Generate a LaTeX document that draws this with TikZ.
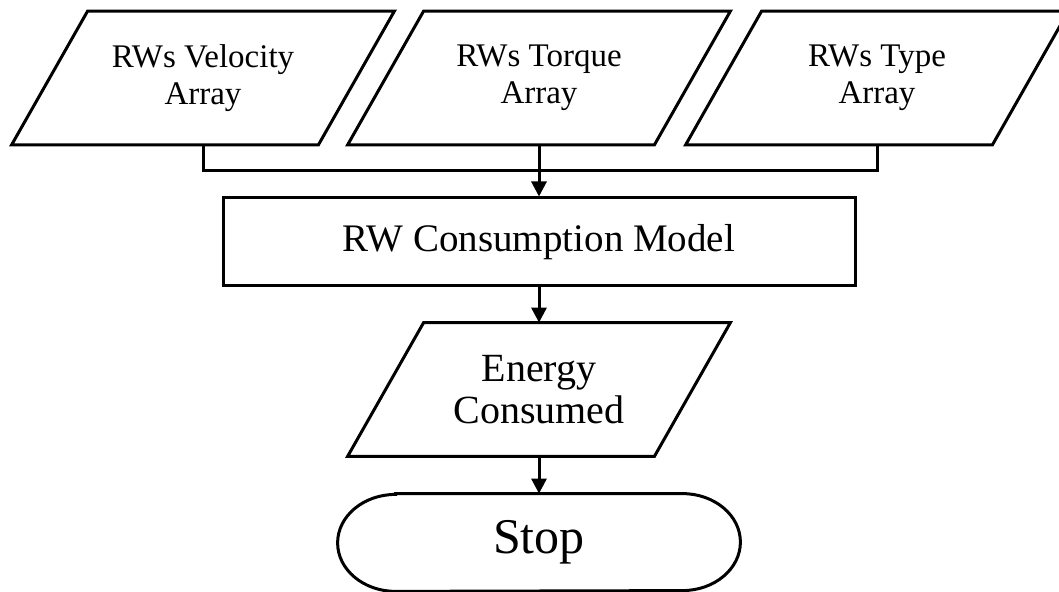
\documentclass[tikz,border=0pt]{standalone}
\usepackage{fontspec}
\setmainfont{Liberation Serif}
\usetikzlibrary{arrows.meta,shapes.geometric,positioning}

\begin{document}
\begin{tikzpicture}[x=0.5pt,y=-0.5pt,
    iobox/.style={rectangle,minimum width=153pt,minimum height=66.5pt,
      inner sep=0pt,align=center},
    procbox/.style={rectangle,draw,line width=1.5pt,minimum width=316pt,
      minimum height=44pt,inner sep=0pt,font=\fontsize{19.5pt}{21pt}\selectfont},
    stopbox/.style={rectangle,minimum width=201pt,minimum height=48.5pt,
      inner sep=0pt,font=\fontsize{25pt}{27pt}\selectfont},
    link/.style={line width=1.5pt},
    flow/.style={line width=1.5pt,-{Triangle[length=7.5pt,width=7.5pt]}}]

    \useasboundingbox (0,0) rectangle (1059,592);

    % entradas
    \node[iobox,font=\fontsize{16.5pt}{18.5pt}\selectfont] (vel) at (203,78)
      {RWs Velocity\\Array};
    \node[iobox,font=\fontsize{16.5pt}{18.5pt}\selectfont] (torque) at (539,78)
      {RWs Torque\\Array};
    \node[iobox,font=\fontsize{16.5pt}{18.5pt}\selectfont] (type) at (877,78)
      {RWs Type\\Array};
    \coordinate (bus) at (539,171);

    % modelo
    \node[procbox] (model) at (539,242) {RW Consumption Model};

    % saida
    \node[iobox,font=\fontsize{20pt}{21pt}\selectfont] (energy) at (539,389.5)
      {Energy\\Consumed};

    % contornos dos paralelogramos
    \foreach \n in {vel,torque,type,energy}{
      \draw[link] ([xshift=19pt]\n.north west) -- ([xshift=19pt]\n.north east)
        -- ([xshift=-19pt]\n.south east) -- ([xshift=-19pt]\n.south west) -- cycle;
    }

    % fim
    \node[stopbox] (stop) at (539,542.5) {Stop};
    \draw[link] ([xshift=29pt]stop.north west) -- ([xshift=-29pt]stop.north east)
      arc[start angle=90,end angle=-90,x radius=29pt,y radius=24.25pt]
      -- ([xshift=29pt]stop.south west)
      arc[start angle=270,end angle=90,x radius=29pt,y radius=24.25pt] -- cycle;

    % ligacoes
    \draw[link] (vel.south) |- (bus) -| (type.south);
    \draw[flow] (torque.south) -- (model.north);
    \draw[flow] (model.south) -- (energy.north);
    \draw[flow] (energy.south) -- (stop.north);

\end{tikzpicture}
\end{document}
